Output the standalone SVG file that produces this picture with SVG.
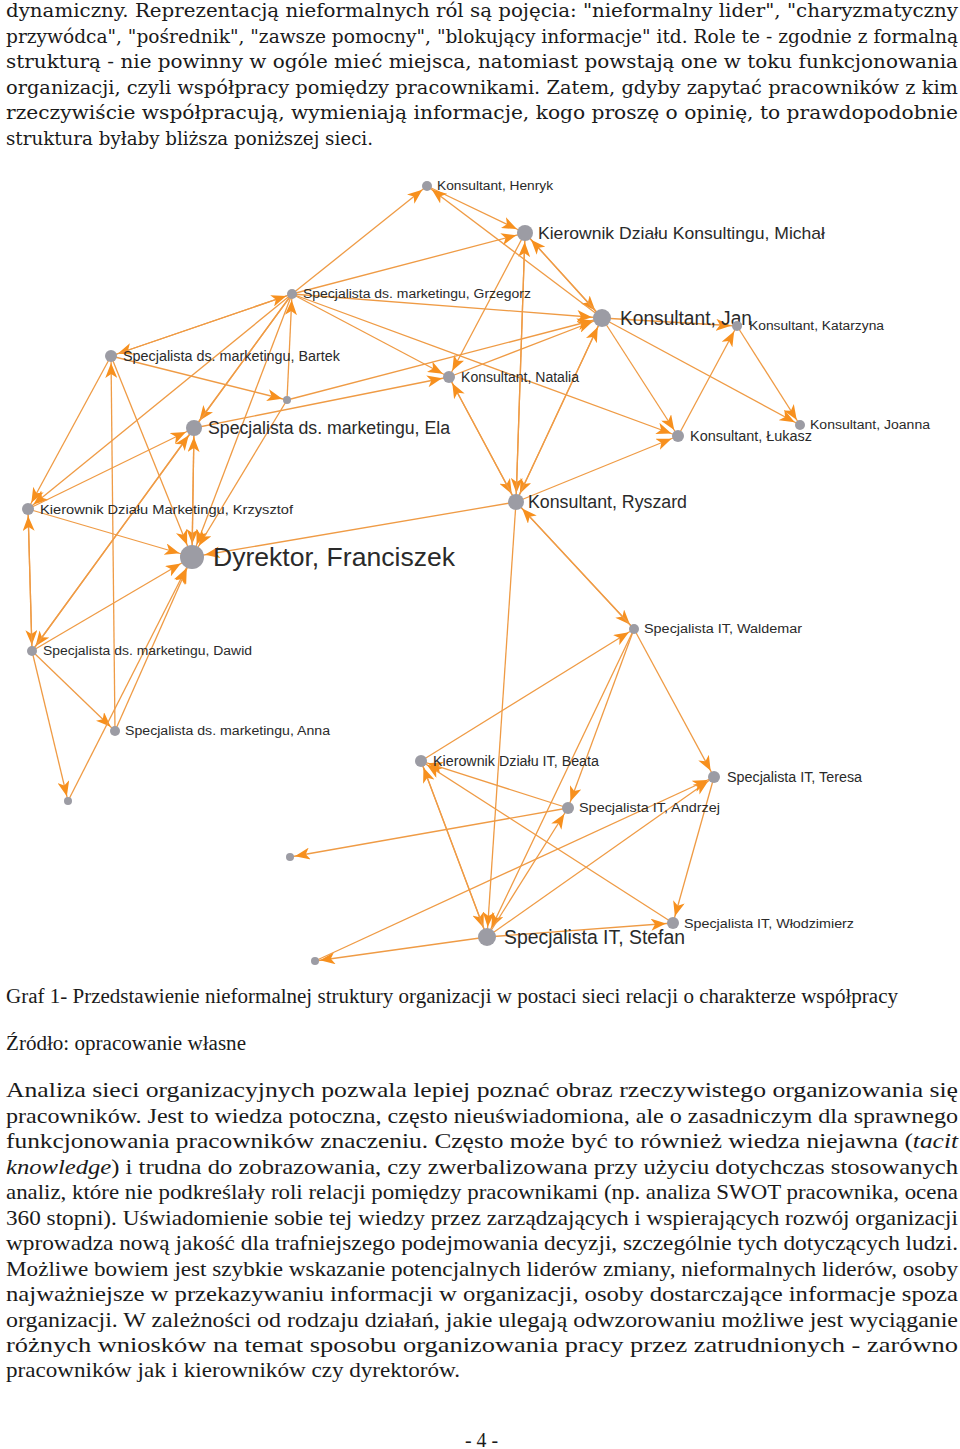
<svg xmlns="http://www.w3.org/2000/svg" width="960" height="1449" viewBox="0 0 960 1449">
<style>
.p1{font-family:"DejaVu Serif","Liberation Serif",serif;font-size:18px;fill:#1a1a1a}
.p2{font-family:"Liberation Serif","DejaVu Serif",serif;font-size:22px;fill:#1a1a1a}
.e line{stroke:#ef9b45;stroke-width:1.3;fill:none}
.n circle{fill:#9c9ca4}
.n text{font-family:"Liberation Sans",Arial,sans-serif;fill:#2a2a2a}
</style>
<defs>
<marker id="a4" markerUnits="userSpaceOnUse" markerWidth="16" markerHeight="12" refX="20" refY="6" orient="auto"><path d="M0,0 L15,6 L0,12 L4,6 z" fill="#f7901e"/></marker>
<marker id="a5" markerUnits="userSpaceOnUse" markerWidth="16" markerHeight="12" refX="21" refY="6" orient="auto"><path d="M0,0 L15,6 L0,12 L4,6 z" fill="#f7901e"/></marker>
<marker id="a6" markerUnits="userSpaceOnUse" markerWidth="16" markerHeight="12" refX="22" refY="6" orient="auto"><path d="M0,0 L15,6 L0,12 L4,6 z" fill="#f7901e"/></marker>
<marker id="a8" markerUnits="userSpaceOnUse" markerWidth="16" markerHeight="12" refX="24" refY="6" orient="auto"><path d="M0,0 L15,6 L0,12 L4,6 z" fill="#f7901e"/></marker>
<marker id="a9" markerUnits="userSpaceOnUse" markerWidth="16" markerHeight="12" refX="25" refY="6" orient="auto"><path d="M0,0 L15,6 L0,12 L4,6 z" fill="#f7901e"/></marker>
<marker id="a12" markerUnits="userSpaceOnUse" markerWidth="16" markerHeight="12" refX="28" refY="6" orient="auto"><path d="M0,0 L15,6 L0,12 L4,6 z" fill="#f7901e"/></marker>
</defs>
<rect width="960" height="1449" fill="#ffffff"/>

<g id="para1" class="p1">
<text x="6" y="17" textLength="952" lengthAdjust="spacingAndGlyphs">dynamiczny. Reprezentacją nieformalnych ról są pojęcia: "nieformalny lider", "charyzmatyczny</text>
<text x="6" y="43" textLength="952" lengthAdjust="spacingAndGlyphs">przywódca", "pośrednik", "zawsze pomocny", "blokujący informacje" itd. Role te - zgodnie z formalną</text>
<text x="6" y="68" textLength="952" lengthAdjust="spacingAndGlyphs">strukturą - nie powinny w ogóle mieć miejsca, natomiast powstają one w toku funkcjonowania</text>
<text x="6" y="94" textLength="952" lengthAdjust="spacingAndGlyphs">organizacji, czyli współpracy pomiędzy pracownikami. Zatem, gdyby zapytać pracowników z kim</text>
<text x="6" y="119" textLength="952" lengthAdjust="spacingAndGlyphs">rzeczywiście współpracują, wymieniają informacje, kogo proszę o opinię, to prawdopodobnie</text>
<text x="6" y="145" textLength="367" lengthAdjust="spacingAndGlyphs">struktura byłaby bliższa poniższej sieci.</text>
</g>

<g id="connectors" class="e">
<line x1="292" y1="294" x2="427" y2="186" marker-end="url(#a5)"/>
<line x1="292" y1="294" x2="111" y2="356" marker-end="url(#a6)"/>
<line x1="111" y1="356" x2="292" y2="294" marker-end="url(#a5)"/>
<line x1="292" y1="294" x2="525" y2="233" marker-end="url(#a8)"/>
<line x1="292" y1="294" x2="602" y2="318" marker-end="url(#a9)"/>
<line x1="292" y1="294" x2="449" y2="377" marker-end="url(#a6)"/>
<line x1="292" y1="294" x2="678" y2="436" marker-end="url(#a6)"/>
<line x1="287" y1="400" x2="292" y2="294" marker-end="url(#a5)"/>
<line x1="111" y1="356" x2="287" y2="400" marker-end="url(#a4)"/>
<line x1="292" y1="294" x2="194" y2="428" marker-end="url(#a8)"/>
<line x1="292" y1="294" x2="28" y2="509" marker-end="url(#a6)"/>
<line x1="292" y1="294" x2="192" y2="557" marker-end="url(#a12)"/>
<line x1="292" y1="294" x2="32" y2="651" marker-end="url(#a5)"/>
<line x1="287" y1="400" x2="192" y2="557" marker-end="url(#a12)"/>
<line x1="111" y1="356" x2="28" y2="509" marker-end="url(#a6)"/>
<line x1="28" y1="509" x2="192" y2="557" marker-end="url(#a12)"/>
<line x1="28" y1="509" x2="32" y2="651" marker-end="url(#a5)"/>
<line x1="32" y1="651" x2="28" y2="509" marker-end="url(#a6)"/>
<line x1="115" y1="731" x2="111" y2="356" marker-end="url(#a6)"/>
<line x1="111" y1="356" x2="192" y2="557" marker-end="url(#a12)"/>
<line x1="28" y1="509" x2="194" y2="428" marker-end="url(#a8)"/>
<line x1="194" y1="428" x2="192" y2="557" marker-end="url(#a12)"/>
<line x1="192" y1="557" x2="194" y2="428" marker-end="url(#a8)"/>
<line x1="32" y1="651" x2="194" y2="428" marker-end="url(#a8)"/>
<line x1="32" y1="651" x2="192" y2="557" marker-end="url(#a12)"/>
<line x1="32" y1="651" x2="115" y2="731" marker-end="url(#a5)"/>
<line x1="32" y1="651" x2="68" y2="801" marker-end="url(#a4)"/>
<line x1="68" y1="801" x2="192" y2="557" marker-end="url(#a12)"/>
<line x1="115" y1="731" x2="192" y2="557" marker-end="url(#a12)"/>
<line x1="516" y1="502" x2="192" y2="557" marker-end="url(#a12)"/>
<line x1="449" y1="377" x2="516" y2="502" marker-end="url(#a8)"/>
<line x1="516" y1="502" x2="449" y2="377" marker-end="url(#a6)"/>
<line x1="525" y1="233" x2="516" y2="502" marker-end="url(#a8)"/>
<line x1="516" y1="502" x2="525" y2="233" marker-end="url(#a8)"/>
<line x1="602" y1="318" x2="516" y2="502" marker-end="url(#a8)"/>
<line x1="516" y1="502" x2="602" y2="318" marker-end="url(#a9)"/>
<line x1="516" y1="502" x2="678" y2="436" marker-end="url(#a6)"/>
<line x1="516" y1="502" x2="634" y2="629" marker-end="url(#a5)"/>
<line x1="634" y1="629" x2="516" y2="502" marker-end="url(#a8)"/>
<line x1="516" y1="502" x2="487" y2="937" marker-end="url(#a9)"/>
<line x1="525" y1="233" x2="449" y2="377" marker-end="url(#a6)"/>
<line x1="449" y1="377" x2="602" y2="318" marker-end="url(#a9)"/>
<line x1="194" y1="428" x2="449" y2="377" marker-end="url(#a6)"/>
<line x1="287" y1="400" x2="602" y2="318" marker-end="url(#a9)"/>
<line x1="525" y1="233" x2="602" y2="318" marker-end="url(#a9)"/>
<line x1="602" y1="318" x2="525" y2="233" marker-end="url(#a8)"/>
<line x1="427" y1="186" x2="525" y2="233" marker-end="url(#a8)"/>
<line x1="602" y1="318" x2="427" y2="186" marker-end="url(#a5)"/>
<line x1="602" y1="318" x2="737" y2="326" marker-end="url(#a5)"/>
<line x1="602" y1="318" x2="678" y2="436" marker-end="url(#a6)"/>
<line x1="602" y1="318" x2="800" y2="425" marker-end="url(#a5)"/>
<line x1="678" y1="436" x2="737" y2="326" marker-end="url(#a5)"/>
<line x1="737" y1="326" x2="800" y2="425" marker-end="url(#a5)"/>
<line x1="421" y1="761" x2="634" y2="629" marker-end="url(#a5)"/>
<line x1="634" y1="629" x2="568" y2="808" marker-end="url(#a6)"/>
<line x1="634" y1="629" x2="714" y2="777" marker-end="url(#a6)"/>
<line x1="634" y1="629" x2="487" y2="937" marker-end="url(#a9)"/>
<line x1="421" y1="761" x2="487" y2="937" marker-end="url(#a9)"/>
<line x1="487" y1="937" x2="421" y2="761" marker-end="url(#a6)"/>
<line x1="568" y1="808" x2="421" y2="761" marker-end="url(#a6)"/>
<line x1="673" y1="923" x2="421" y2="761" marker-end="url(#a6)"/>
<line x1="568" y1="808" x2="290" y2="857" marker-end="url(#a4)"/>
<line x1="487" y1="937" x2="568" y2="808" marker-end="url(#a6)"/>
<line x1="487" y1="937" x2="714" y2="777" marker-end="url(#a6)"/>
<line x1="487" y1="937" x2="315" y2="961" marker-end="url(#a4)"/>
<line x1="315" y1="961" x2="714" y2="777" marker-end="url(#a6)"/>
<line x1="714" y1="777" x2="673" y2="923" marker-end="url(#a6)"/>
<line x1="487" y1="937" x2="673" y2="923" marker-end="url(#a6)"/>
</g>

<g id="n-henryk" class="n"><circle cx="427" cy="186" r="5"/><text x="437" y="190" font-size="12" textLength="116" lengthAdjust="spacingAndGlyphs">Konsultant, Henryk</text></g>
<g id="n-michal" class="n"><circle cx="525" cy="233" r="8"/><text x="538" y="239" font-size="17" textLength="287" lengthAdjust="spacingAndGlyphs">Kierownik Działu Konsultingu, Michał</text></g>
<g id="n-grzegorz" class="n"><circle cx="292" cy="294" r="5"/><text x="303" y="298" font-size="12" textLength="228" lengthAdjust="spacingAndGlyphs">Specjalista ds. marketingu, Grzegorz</text></g>
<g id="n-jan" class="n"><circle cx="602" cy="318" r="9"/><text x="620" y="325" font-size="20" textLength="132" lengthAdjust="spacingAndGlyphs">Konsultant, Jan</text></g>
<g id="n-katarzyna" class="n"><circle cx="737" cy="326" r="5"/><text x="749" y="330" font-size="12" textLength="135" lengthAdjust="spacingAndGlyphs">Konsultant, Katarzyna</text></g>
<g id="n-bartek" class="n"><circle cx="111" cy="356" r="6"/><text x="123" y="361" font-size="14" textLength="217" lengthAdjust="spacingAndGlyphs">Specjalista ds. marketingu, Bartek</text></g>
<g id="n-natalia" class="n"><circle cx="449" cy="377" r="6"/><text x="461" y="382" font-size="14" textLength="118" lengthAdjust="spacingAndGlyphs">Konsultant, Natalia</text></g>
<g id="n-s1" class="n"><circle cx="287" cy="400" r="4"/></g>
<g id="n-ela" class="n"><circle cx="194" cy="428" r="8"/><text x="208" y="434" font-size="18" textLength="242" lengthAdjust="spacingAndGlyphs">Specjalista ds. marketingu, Ela</text></g>
<g id="n-joanna" class="n"><circle cx="800" cy="425" r="5"/><text x="810" y="429" font-size="12" textLength="120" lengthAdjust="spacingAndGlyphs">Konsultant, Joanna</text></g>
<g id="n-lukasz" class="n"><circle cx="678" cy="436" r="6"/><text x="690" y="441" font-size="14" textLength="122" lengthAdjust="spacingAndGlyphs">Konsultant, Łukasz</text></g>
<g id="n-krzysztof" class="n"><circle cx="28" cy="509" r="6"/><text x="40" y="514" font-size="13" textLength="253" lengthAdjust="spacingAndGlyphs">Kierownik Działu Marketingu, Krzysztof</text></g>
<g id="n-ryszard" class="n"><circle cx="516" cy="502" r="8"/><text x="528" y="508" font-size="18" textLength="159" lengthAdjust="spacingAndGlyphs">Konsultant, Ryszard</text></g>
<g id="n-dyrektor" class="n"><circle cx="192" cy="557" r="12"/><text x="213" y="566" font-size="26" textLength="242" lengthAdjust="spacingAndGlyphs">Dyrektor, Franciszek</text></g>
<g id="n-dawid" class="n"><circle cx="32" cy="651" r="5"/><text x="43" y="655" font-size="12" textLength="209" lengthAdjust="spacingAndGlyphs">Specjalista ds. marketingu, Dawid</text></g>
<g id="n-waldemar" class="n"><circle cx="634" cy="629" r="5"/><text x="644" y="633" font-size="12" textLength="158" lengthAdjust="spacingAndGlyphs">Specjalista IT, Waldemar</text></g>
<g id="n-anna" class="n"><circle cx="115" cy="731" r="5"/><text x="125" y="735" font-size="12" textLength="205" lengthAdjust="spacingAndGlyphs">Specjalista ds. marketingu, Anna</text></g>
<g id="n-s2" class="n"><circle cx="68" cy="801" r="4"/></g>
<g id="n-beata" class="n"><circle cx="421" cy="761" r="6"/><text x="433" y="766" font-size="14" textLength="166" lengthAdjust="spacingAndGlyphs">Kierownik Działu IT, Beata</text></g>
<g id="n-teresa" class="n"><circle cx="714" cy="777" r="6"/><text x="727" y="782" font-size="14" textLength="135" lengthAdjust="spacingAndGlyphs">Specjalista IT, Teresa</text></g>
<g id="n-andrzej" class="n"><circle cx="568" cy="808" r="6"/><text x="579" y="812" font-size="13" textLength="141" lengthAdjust="spacingAndGlyphs">Specjalista IT, Andrzej</text></g>
<g id="n-s3" class="n"><circle cx="290" cy="857" r="4"/></g>
<g id="n-wlodzimierz" class="n"><circle cx="673" cy="923" r="6"/><text x="684" y="928" font-size="13" textLength="170" lengthAdjust="spacingAndGlyphs">Specjalista IT, Włodzimierz</text></g>
<g id="n-stefan" class="n"><circle cx="487" cy="937" r="9"/><text x="504" y="944" font-size="20" textLength="181" lengthAdjust="spacingAndGlyphs">Specjalista IT, Stefan</text></g>
<g id="n-s4" class="n"><circle cx="315" cy="961" r="4"/></g>

<g id="caption" class="p2">
<text x="6" y="1003" font-size="20" textLength="892" lengthAdjust="spacingAndGlyphs">Graf 1- Przedstawienie nieformalnej struktury organizacji w postaci sieci relacji o charakterze współpracy</text>
<text x="6" y="1050" font-size="20" textLength="240" lengthAdjust="spacingAndGlyphs">Źródło: opracowanie własne</text>
</g>

<g id="para2" class="p2">
<text x="6" y="1097" textLength="952" lengthAdjust="spacingAndGlyphs">Analiza sieci organizacyjnych pozwala lepiej poznać obraz rzeczywistego organizowania się</text>
<text x="6" y="1122.5" textLength="952" lengthAdjust="spacingAndGlyphs">pracowników. Jest to wiedza potoczna, często nieuświadomiona, ale o zasadniczym dla sprawnego</text>
<text x="6" y="1148" textLength="952" lengthAdjust="spacingAndGlyphs">funkcjonowania  pracowników znaczeniu. Często może być to również wiedza niejawna (<tspan font-style="italic">tacit</tspan></text>
<text x="6" y="1173.5" textLength="952" lengthAdjust="spacingAndGlyphs"><tspan font-style="italic">knowledge</tspan>) i trudna do zobrazowania, czy zwerbalizowana przy użyciu dotychczas stosowanych</text>
<text x="6" y="1199" textLength="952" lengthAdjust="spacingAndGlyphs">analiz, które nie podkreślały roli relacji pomiędzy pracownikami (np. analiza SWOT pracownika, ocena</text>
<text x="6" y="1224.5" textLength="952" lengthAdjust="spacingAndGlyphs">360 stopni). Uświadomienie sobie tej wiedzy przez zarządzających i wspierających rozwój organizacji</text>
<text x="6" y="1250" textLength="952" lengthAdjust="spacingAndGlyphs">wprowadza nową jakość dla trafniejszego podejmowania decyzji, szczególnie tych dotyczących ludzi.</text>
<text x="6" y="1275.5" textLength="952" lengthAdjust="spacingAndGlyphs">Możliwe bowiem jest szybkie wskazanie potencjalnych liderów zmiany, nieformalnych liderów, osoby</text>
<text x="6" y="1301" textLength="952" lengthAdjust="spacingAndGlyphs">najważniejsze w przekazywaniu informacji w organizacji, osoby dostarczające informacje spoza</text>
<text x="6" y="1326.5" textLength="952" lengthAdjust="spacingAndGlyphs">organizacji. W zależności od rodzaju działań, jakie ulegają odwzorowaniu możliwe jest wyciąganie</text>
<text x="6" y="1352" textLength="952" lengthAdjust="spacingAndGlyphs">różnych wniosków na temat sposobu organizowania pracy przez zatrudnionych - zarówno</text>
<text x="6" y="1377" textLength="454" lengthAdjust="spacingAndGlyphs">pracowników jak i kierowników czy dyrektorów.</text>
</g>

<g id="page-number" class="p2">
<text x="465" y="1447" font-size="20" textLength="33" lengthAdjust="spacingAndGlyphs">- 4 -</text>
</g>
</svg>
